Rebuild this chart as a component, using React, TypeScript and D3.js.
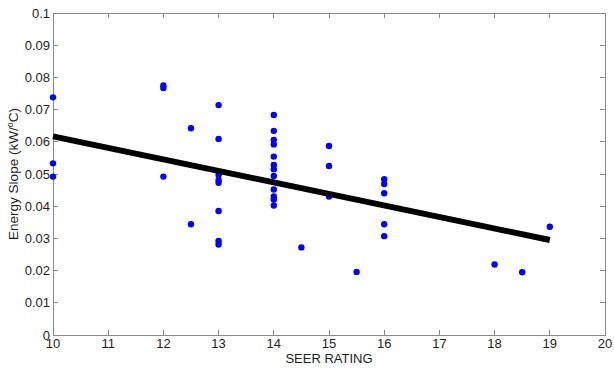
import React from "react";
import * as d3 from "d3";

// SEER rating of each unit and its measured energy slope (kW/°C)
const seer: number[] = [
  10, 10, 10,
  12, 12, 12,
  12.5, 12.5,
  13, 13, 13, 13, 13, 13, 13, 13,
  14, 14, 14, 14, 14, 14, 14, 14, 14, 14, 14, 14,
  14.5,
  15, 15, 15,
  15.5,
  16, 16, 16, 16, 16,
  18, 18.5, 19,
];
const slope: number[] = [
  0.0738, 0.0533, 0.0492,
  0.0775, 0.0767, 0.0492,
  0.0642, 0.0344,
  0.0714, 0.0609, 0.0497, 0.0481, 0.0473, 0.0385, 0.0292, 0.0281,
  0.0683, 0.0634, 0.0606, 0.0592, 0.0554, 0.0528, 0.0515, 0.0494, 0.0452, 0.043, 0.0421, 0.0402,
  0.0272,
  0.0587, 0.0525, 0.043,
  0.0196,
  0.0484, 0.0469, 0.044, 0.0344, 0.0307,
  0.0219, 0.0195, 0.0336,
];

// Linear fit endpoints
const fitX: number[] = [10, 19];
const fitY: number[] = [0.0617, 0.0295];

const xTicks: number[] = [10, 11, 12, 13, 14, 15, 16, 17, 18, 19, 20];
const yTicks: number[] = [0, 0.01, 0.02, 0.03, 0.04, 0.05, 0.06, 0.07, 0.08, 0.09, 0.1];

const W = 614;
const H = 370;
const left = 53;
const right = 605;
const top = 13;
const bottom = 335;

export default function App() {
  const x = d3.scaleLinear().domain([10, 20]).range([left, right]);
  const y = d3.scaleLinear().domain([0, 0.1]).range([bottom, top]);
  const line = d3
    .line<number>()
    .x((d) => x(fitX[d]))
    .y((d) => y(fitY[d]));

  const axisColor = "#8a8a8a";
  const textColor = "#1e1e1e";
  const font = "Arial, 'Liberation Sans', sans-serif";
  const tl = 5;
  const fmt = (v: number) => (v === 0 ? "0" : d3.format("~g")(+v.toFixed(2)));

  return (
    <svg
      width={W}
      height={H}
      style={{ position: "absolute", left: 0, top: 0, background: "#fff" }}
      fontFamily={font}
    >
      <rect x={0} y={0} width={W} height={H} fill="#fff" />
      {/* plot box */}
      <rect
        x={left}
        y={top}
        width={right - left}
        height={bottom - top}
        fill="none"
        stroke={axisColor}
        strokeWidth={1}
        shapeRendering="crispEdges"
      />
      {/* x ticks, bottom and top, pointing inward */}
      {xTicks.map((t) => (
        <g key={"xt" + t} shapeRendering="crispEdges">
          <line x1={x(t)} x2={x(t)} y1={bottom} y2={bottom - tl} stroke={axisColor} />
          <line x1={x(t)} x2={x(t)} y1={top} y2={top + tl} stroke={axisColor} />
          <text
            x={x(t)}
            y={348}
            textAnchor="middle"
            fontSize={13}
            fill={textColor}
          >
            {t}
          </text>
        </g>
      ))}
      {/* y ticks, left and right, pointing inward */}
      {yTicks.map((t) => (
        <g key={"yt" + t} shapeRendering="crispEdges">
          <line x1={left} x2={left + tl} y1={y(t)} y2={y(t)} stroke={axisColor} />
          <line x1={right} x2={right - tl} y1={y(t)} y2={y(t)} stroke={axisColor} />
          <text
            x={50}
            y={y(t) + 4.5}
            textAnchor="end"
            fontSize={13}
            fill={textColor}
          >
            {fmt(t)}
          </text>
        </g>
      ))}
      {/* data points */}
      {seer.map((s, i) => (
        <circle key={"p" + i} cx={x(s)} cy={y(slope[i])} r={3.2} fill="#0000ff" />
      ))}
      {/* fitted trend */}
      <path
        d={line([0, 1]) || ""}
        fill="none"
        stroke="#000"
        strokeWidth={6}
        strokeLinecap="butt"
      />
      {/* axis titles */}
      <text x={(left + right) / 2} y={363} textAnchor="middle" fontSize={13} fill={textColor}>
        SEER RATING
      </text>
      <text
        transform={`translate(18, ${(top + bottom) / 2}) rotate(-90)`}
        textAnchor="middle"
        fontSize={13.5}
        fill={textColor}
      >
        Energy Slope (kW/
        <tspan fontSize={9} dy={-5}>
          o
        </tspan>
        <tspan dy={5}>C)</tspan>
      </text>
    </svg>
  );
}
